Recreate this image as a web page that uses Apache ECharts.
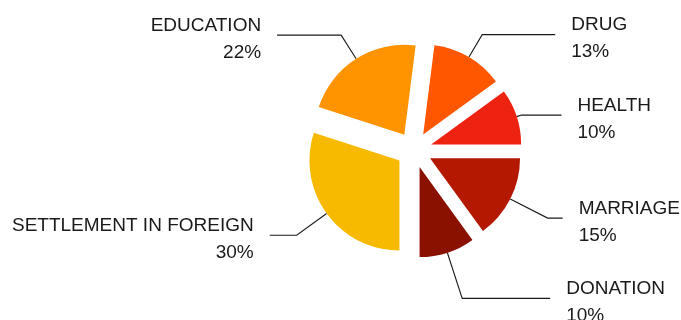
<!DOCTYPE html>
<html><head><meta charset="utf-8">
<script src="https://cdn.jsdelivr.net/npm/echarts@6/dist/echarts.min.js"></script>
<style>html,body{margin:0;padding:0;background:#fff}#c{width:681px;height:320px}</style>
</head><body><div id="c"></div>
<script>
const categories = ['DRUG', 'HEALTH', 'MARRIAGE', 'DONATION', 'SETTLEMENT IN FOREIGN', 'EDUCATION'];
const values = [13, 10, 15, 10, 30, 22];
const colors = ['#FF5700', '#EE2211', '#B41900', '#8A1000', '#F8BA00', '#FF9400'];
const lineLength = [26, 5, 42, 48, 37, 28];
const lineLength2 = [73, 40, 15, 88, 27, 64];

const font = 'Liberation Sans, Arial, sans-serif';
const chart = echarts.init(document.getElementById('c'), null, {renderer: 'canvas'});
chart.setOption({
  animation: false,
  series: [{
    type: 'pie',
    center: [414, 150],
    radius: 90,
    startAngle: 82.8,
    clockwise: true,
    selectedMode: 'multiple',
    selectedOffset: 18,
    avoidLabelOverlap: false,
    data: categories.map((c, i) => ({
      name: c, value: values[i], selected: true,
      itemStyle: {color: colors[i]},
      labelLine: {length: lineLength[i], length2: lineLength2[i]}
    })),
    label: {
      formatter: '{n|{b}}\n{p|{d}%}',
      fontFamily: font,
      fontSize: 19,
      color: '#1a1a1a',
      overflow: 'none',
      distanceToLabelLine: 16,
      rich: {
        n: {fontFamily: font, fontSize: 19, color: '#1a1a1a', lineHeight: 35},
        p: {fontFamily: font, fontSize: 19, color: '#1a1a1a', lineHeight: 19}
      }
    },
    labelLine: {
      lineStyle: {color: '#1a1a1a', width: 1.1}
    },
    emphasis: {disabled: true}
  }]
});
</script></body></html>
